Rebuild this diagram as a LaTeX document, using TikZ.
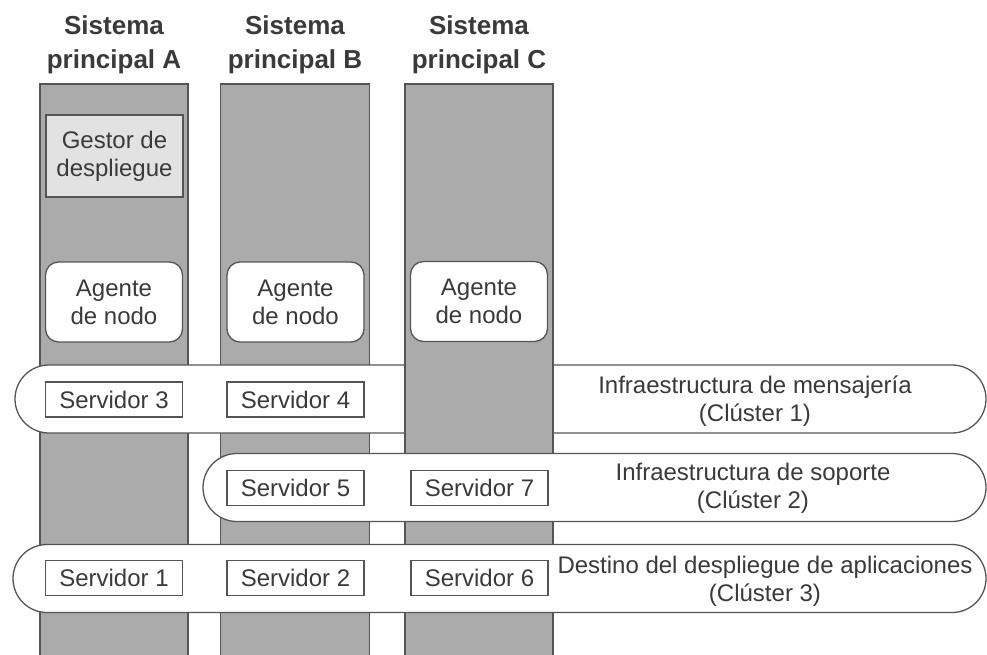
\documentclass[tikz,border=0pt]{standalone}
\usepackage{fontspec}
\setmainfont{Liberation Sans}
\begin{document}
\begin{tikzpicture}[x=1pt,y=-1pt,
  every node/.style={inner sep=0pt, outer sep=0pt, text=txt},
  colbar/.style={draw=edge, fill=colgray, line width=1.5pt, minimum width=148pt, minimum height=600pt, anchor=north},
  capsule/.style={draw=edge, fill=white, line width=1.3pt, minimum height=68pt, rounded corners=34pt},
  srv/.style={draw=edge, fill=white, line width=1.3pt, minimum width=137pt, minimum height=35pt, font=\fontsize{24}{28}\selectfont},
  agent/.style={draw=edge, fill=white, line width=1.3pt, minimum width=137pt, minimum height=80pt, rounded corners=13pt, align=center, font=\fontsize{24}{28}\selectfont},
  gestor/.style={draw=edge, fill=lightbox, line width=1.5pt, minimum width=137pt, minimum height=82pt, align=center, font=\fontsize{24}{28}\selectfont},
  title/.style={align=center, font=\fontsize{26}{34}\selectfont\bfseries},
  lbl/.style={align=center, font=\fontsize{24}{28}\selectfont}
]
\definecolor{colgray}{HTML}{ABABAB}
\definecolor{edge}{HTML}{555555}
\definecolor{lightbox}{HTML}{E2E2E2}
\definecolor{txt}{HTML}{3A3A3A}
\useasboundingbox (0,0) rectangle (987,654);
\clip (0,0) rectangle (987,654);
\fill[white] (0,0) rectangle (987,654);

% titles
\node[title] (tA) at (114,44.5) {Sistema\\principal A};
\node[title] (tB) at (295,44.5) {Sistema\\principal B};
\node[title] (tC) at (479,44.5) {Sistema\\principal C};

% columns A and B
\node[colbar] (colA) at (114,84) {};
\node[colbar, minimum width=149pt] (colB) at (295,84) {};

% cluster 1 (beneath column C)
\node[capsule, minimum width=971pt] (cl1) at (500.5,399) {};

% column C
\node[colbar] (colC) at (479,84) {};

% clusters 2 and 3
\node[capsule, minimum width=783pt] (cl2) at (594.5,487.5) {};
\node[capsule, minimum width=973pt] (cl3) at (499.5,578.5) {};

% gestor and agents
\node[gestor] (gestor) at (114.5,156) {Gestor de\\despliegue};
\node[agent] (agA) at (114,302) {Agente\\de nodo};
\node[agent] (agB) at (295.5,302) {Agente\\de nodo};
\node[agent] (agC) at (479,301.5) {Agente\\de nodo};

% servers
\node[srv] (s3) at (114,399.5) {Servidor 3};
\node[srv] (s4) at (295.5,399.5) {Servidor 4};
\node[srv] (s5) at (295.5,488) {Servidor 5};
\node[srv] (s7) at (479.5,488) {Servidor 7};
\node[srv] (s1) at (114,578) {Servidor 1};
\node[srv] (s2) at (295.5,578) {Servidor 2};
\node[srv] (s6) at (479.5,578) {Servidor 6};

% cluster labels
\node[lbl] (l1) at (755,401.5) {Infraestructura de mensajería\\(Clúster 1)};
\node[lbl] (l2) at (753,488) {Infraestructura de soporte\\(Clúster 2)};
\node[lbl] (l3) at (765,581.5) {Destino del despliegue de aplicaciones\\(Clúster 3)};
\end{tikzpicture}
\end{document}
